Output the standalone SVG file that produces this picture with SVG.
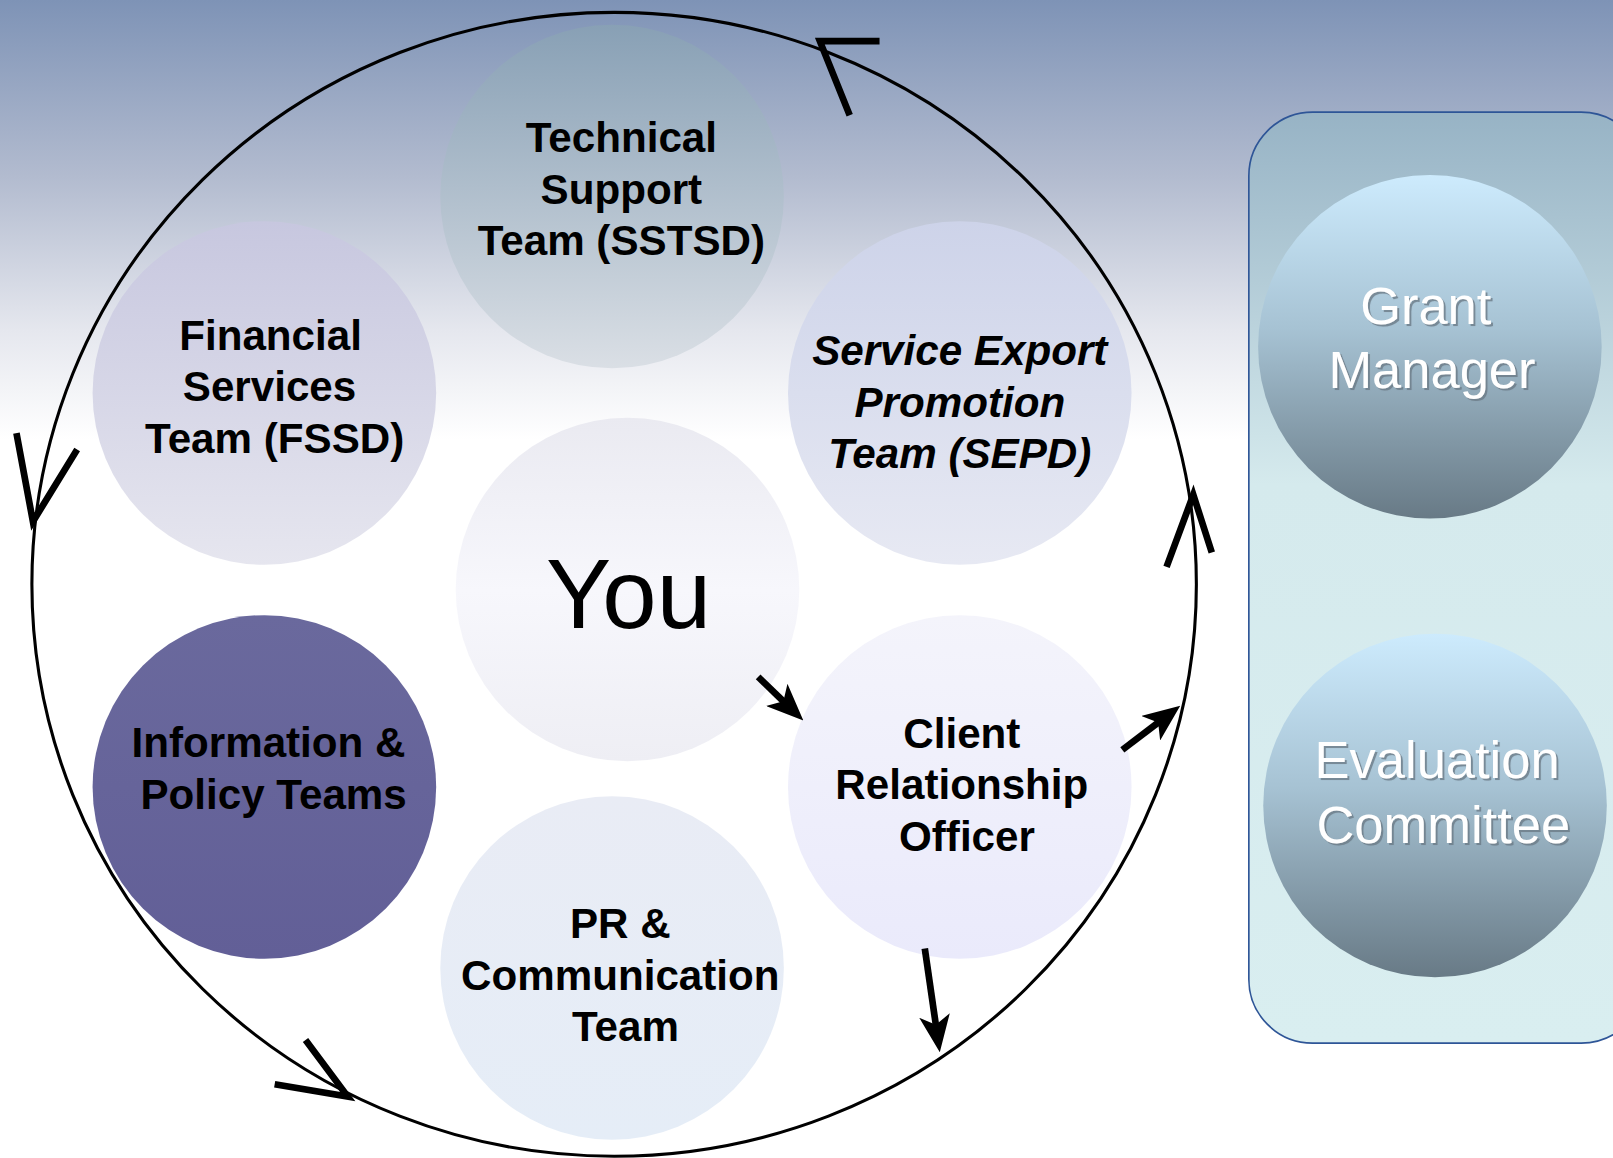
<svg xmlns="http://www.w3.org/2000/svg" width="1613" height="1158" viewBox="0 0 1613 1158">
<defs>
<style>
.lbl{font-family:"Liberation Sans",Arial,sans-serif;font-weight:bold;font-size:41px;fill:#000;text-anchor:middle}
.it{font-style:italic}
.you{font-family:"Liberation Sans",Arial,sans-serif;font-size:95px;fill:#000;text-anchor:middle}
.wl{font-family:"Liberation Sans",Arial,sans-serif;font-size:51px;fill:#fff;text-anchor:middle;filter:url(#sh)}
.open{fill:none;stroke:#000;stroke-width:6.5;stroke-linecap:butt;stroke-linejoin:miter}
.fa{fill:none;stroke:#000;stroke-width:6.5;marker-end:url(#ah)}
</style>
<linearGradient id="bg" x1="0" y1="0" x2="0" y2="440" gradientUnits="userSpaceOnUse">
<stop offset="0" stop-color="#7e93b6"/><stop offset="0.4" stop-color="#b2bbcf"/><stop offset="0.75" stop-color="#e5e7ee"/><stop offset="1" stop-color="#ffffff"/>
</linearGradient>
<linearGradient id="pn" x1="0" y1="0" x2="0" y2="1">
<stop offset="0" stop-color="#97b3c5"/><stop offset="0.4" stop-color="#d5eaed"/><stop offset="1" stop-color="#d9eef0"/>
</linearGradient>
<linearGradient id="gTech" x1="0" y1="0" x2="0" y2="1"><stop offset="0" stop-color="#88a0b5"/><stop offset="1" stop-color="#dadfe5"/></linearGradient>
<linearGradient id="gFin" x1="0" y1="0" x2="0" y2="1"><stop offset="0" stop-color="#c7c7df"/><stop offset="1" stop-color="#e6e6ef"/></linearGradient>
<linearGradient id="gSep" x1="0" y1="0" x2="0" y2="1"><stop offset="0" stop-color="#cdd3e9"/><stop offset="1" stop-color="#e7e9f3"/></linearGradient>
<linearGradient id="gYou" x1="0" y1="0" x2="0" y2="1"><stop offset="0" stop-color="#eaeaf1"/><stop offset="0.5" stop-color="#f7f7fc"/><stop offset="1" stop-color="#eeeef4"/></linearGradient>
<linearGradient id="gInf" x1="0" y1="0" x2="0" y2="1"><stop offset="0" stop-color="#6a699d"/><stop offset="1" stop-color="#625f97"/></linearGradient>
<linearGradient id="gCro" x1="0" y1="0" x2="0" y2="1"><stop offset="0" stop-color="#f4f4fb"/><stop offset="1" stop-color="#eaeafb"/></linearGradient>
<linearGradient id="gPr" x1="0" y1="0" x2="0" y2="1"><stop offset="0" stop-color="#e9ecf5"/><stop offset="1" stop-color="#e5edf7"/></linearGradient>
<linearGradient id="gBlue" x1="0" y1="0" x2="0" y2="1"><stop offset="0" stop-color="#cdebfd"/><stop offset="0.45" stop-color="#a6c2d3"/><stop offset="1" stop-color="#687a86"/></linearGradient>
<filter id="sh" x="-10%" y="-20%" width="130%" height="150%"><feDropShadow dx="2" dy="2" stdDeviation="0.6" flood-color="#6b7a86" flood-opacity="0.8"/></filter>
<marker id="ah" markerUnits="userSpaceOnUse" markerWidth="36" markerHeight="30" refX="18" refY="15" orient="auto" viewBox="0 0 36 30">
<path d="M0,0 L36,15 L0,30 L9,15 z" fill="#000"/>
</marker>
</defs>
<rect x="0" y="0" width="1613" height="1158" fill="#fff"/>
<rect x="0" y="0" width="1613" height="460" fill="url(#bg)"/>
<g transform="scale(1.0287)">
<g id="panel"><rect x="1214" y="109" width="385" height="905" rx="62" fill="url(#pn)" stroke="#2e5597" stroke-width="1.6"/></g>
<g id="cycle"><ellipse cx="597" cy="568" rx="566" ry="556" fill="none" stroke="#000" stroke-width="3"/></g>
<g id="tech"><circle cx="595" cy="191" r="167" fill="url(#gTech)"/>
<text class="lbl" x="604" y="148">Technical</text><text class="lbl" x="604" y="198">Support</text><text class="lbl" x="604" y="248">Team (SSTSD)</text></g>
<g id="fin"><circle cx="257" cy="382" r="167" fill="url(#gFin)"/>
<text class="lbl" x="263" y="340">Financial</text><text class="lbl" x="262" y="390">Services</text><text class="lbl" x="267" y="440">Team (FSSD)</text></g>
<g id="sepd"><circle cx="933" cy="382" r="167" fill="url(#gSep)"/>
<text class="lbl it" x="933" y="355">Service Export</text><text class="lbl it" x="933" y="405">Promotion</text><text class="lbl it" x="933" y="455">Team (SEPD)</text></g>
<g id="you"><circle cx="610" cy="573" r="167" fill="url(#gYou)"/>
<text class="you" x="611" y="610">You</text></g>
<g id="info"><circle cx="257" cy="765" r="167" fill="url(#gInf)"/>
<text class="lbl" x="261" y="736">Information &amp;</text><text class="lbl" x="266" y="786">Policy Teams</text></g>
<g id="cro"><circle cx="933" cy="765" r="167" fill="url(#gCro)"/>
<text class="lbl" x="935" y="727">Client</text><text class="lbl" x="935" y="777">Relationship</text><text class="lbl" x="940" y="827">Officer</text></g>
<g id="pr"><circle cx="595" cy="941" r="167" fill="url(#gPr)"/>
<text class="lbl" x="603" y="912">PR &amp;</text><text class="lbl" x="603" y="962">Communication</text><text class="lbl" x="608" y="1012">Team</text></g>
<g id="grant"><circle cx="1390" cy="337" r="167" fill="url(#gBlue)"/>
<text class="wl" x="1386" y="315">Grant</text><text class="wl" x="1392" y="377">Manager</text></g>
<g id="eval"><circle cx="1395" cy="783" r="167" fill="url(#gBlue)"/>
<text class="wl" x="1397" y="756">Evaluation</text><text class="wl" x="1403" y="819">Committee</text></g>
<g id="connectors">
<polyline class="open" points="855,40 797,40 826,112"/>
<polyline class="open" points="16,421 32,507 75,437"/>
<polyline class="open" points="297,1011 338,1066 267,1054"/>
<polyline class="open" points="1134,551 1160,481 1178,537"/>
<line class="fa" x1="737" y1="658" x2="768" y2="688"/>
<line class="fa" x1="1091" y1="729" x2="1133" y2="697"/>
<line class="fa" x1="899" y1="922" x2="911" y2="1005"/>
</g>
</g>
</svg>
